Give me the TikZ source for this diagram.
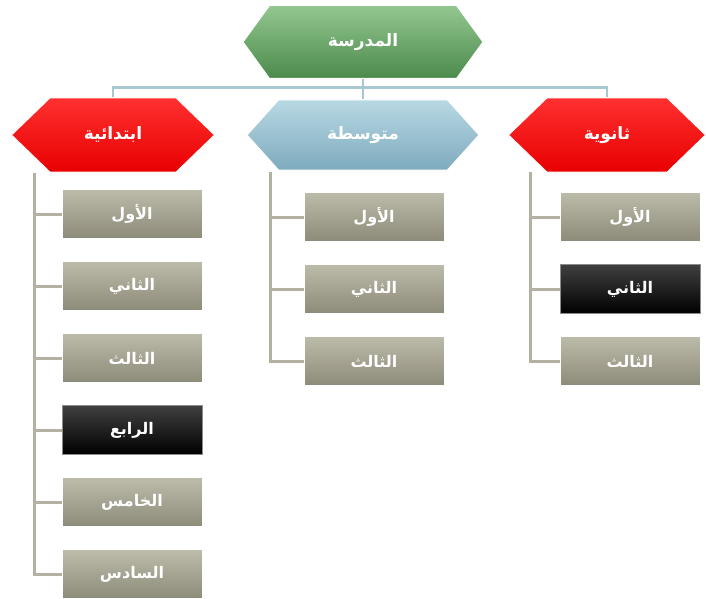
\documentclass[tikz,border=0pt]{standalone}
\usepackage{fontspec}
\usepackage{tikz}
\usetikzlibrary{positioning,shapes.symbols}
\TeXXeTstate=1
\newfontfamily\arabicfont[Script=Arabic]{DejaVu Sans}
\newcommand{\artxt}[1]{{\arabicfont\bfseries\beginR #1\endR}}
\definecolor{lnblue}{HTML}{A9C6D3}
\definecolor{lngray}{HTML}{B3B1A2}
\definecolor{grtop}{HTML}{93C790}
\definecolor{grbot}{HTML}{4C8A4B}
\definecolor{rdtop}{HTML}{FF3030}
\definecolor{rdbot}{HTML}{E80000}
\definecolor{bltop}{HTML}{B8D8E3}
\definecolor{blbot}{HTML}{7EABBE}
\definecolor{bxtop}{HTML}{BDBBA9}
\definecolor{bxbot}{HTML}{8C8A78}

\begin{document}
\begin{tikzpicture}[
  x=1pt, y=-1pt,
  node distance=22pt,
  hexa/.style={signal, signal to=west and east, align=center, text=white,
               font=\fontsize{17}{19}\selectfont, inner sep=0pt, draw=white, line width=1pt},
  green/.style={hexa, top color=grtop, bottom color=grbot},
  redx/.style ={hexa, top color=rdtop, bottom color=rdbot},
  blue/.style ={hexa, top color=bltop, bottom color=blbot},
  box/.style  ={draw=white, line width=1pt, minimum width=140pt, minimum height=49pt,
                top color=bxtop, bottom color=bxbot,
                text=white, font=\fontsize{16}{18}\selectfont},
  dark/.style ={box, top color=black!75, bottom color=black, draw=black!45},
  tree/.style ={draw=lnblue, line width=2.5pt},
  brk/.style  ={draw=lngray, line width=3pt}
]
\useasboundingbox (0,0) rectangle (706,599);
% level 1 and 2
\node[green, minimum width=240pt, minimum height=73pt, signal pointer angle=108] (school) at (363,42) {\artxt{المدرسة}};
\node[redx,  minimum width=203pt, minimum height=74pt, signal pointer angle=88] (prim) at (113,135) {\artxt{ابتدائية}};
\node[blue,  minimum width=232pt, minimum height=70pt, signal pointer angle=96] (mid) at (363,135) {\artxt{متوسطة}};
\node[redx,  minimum width=197pt, minimum height=74pt, signal pointer angle=88] (sec) at (607,135) {\artxt{ثانوية}};
% primary grades
\node[box]  (p1) at (132,214) {\artxt{الأول}};
\node[box,  below=of p1] (p2) {\artxt{الثاني}};
\node[box,  below=of p2] (p3) {\artxt{الثالث}};
\node[dark, below=of p3] (p4) {\artxt{الرابع}};
\node[box,  below=of p4] (p5) {\artxt{الخامس}};
\node[box,  below=of p5] (p6) {\artxt{السادس}};
% middle grades
\node[box]  (m1) at (374,217) {\artxt{الأول}};
\node[box,  below=of m1] (m2) {\artxt{الثاني}};
\node[box,  below=of m2] (m3) {\artxt{الثالث}};
% secondary grades
\node[box]  (s1) at (630,217) {\artxt{الأول}};
\node[dark, below=of s1] (s2) {\artxt{الثاني}};
\node[box,  below=of s2] (s3) {\artxt{الثالث}};
% tree
\draw[tree] (prim.north) -- ++(0,-10) -| (sec.north);
\draw[tree] (school.south) -- (mid.north);
% brackets
\coordinate (pbar) at (34,173);
\coordinate (mbar) at (270,172);
\coordinate (sbar) at (530,172);
\draw[brk] (pbar) |- (p6.west);
\draw[brk] (pbar |- p1.west) -- (p1.west); \draw[brk] (pbar |- p2.west) -- (p2.west);
\draw[brk] (pbar |- p3.west) -- (p3.west); \draw[brk] (pbar |- p4.west) -- (p4.west);
\draw[brk] (pbar |- p5.west) -- (p5.west);
\draw[brk] (mbar) |- (m3.west);
\draw[brk] (mbar |- m1.west) -- (m1.west); \draw[brk] (mbar |- m2.west) -- (m2.west);
\draw[brk] (sbar) |- (s3.west);
\draw[brk] (sbar |- s1.west) -- (s1.west); \draw[brk] (sbar |- s2.west) -- (s2.west);
\end{tikzpicture}
\end{document}
